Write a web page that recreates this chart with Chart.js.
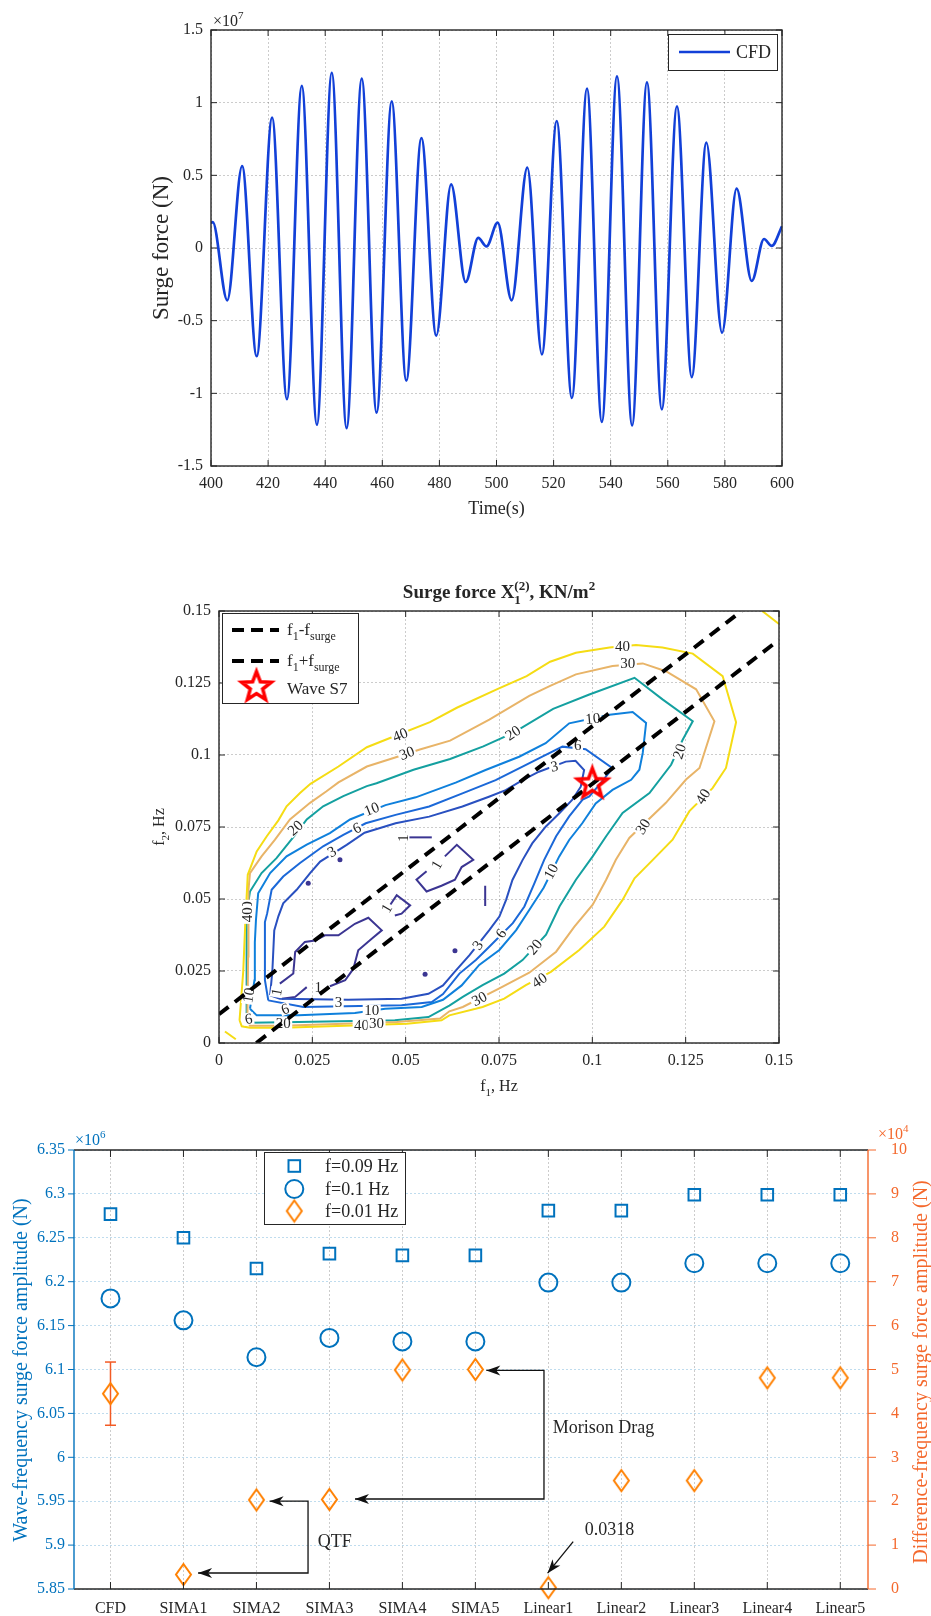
<!DOCTYPE html>
<html>
<head>
<meta charset="utf-8">
<script src="https://cdn.jsdelivr.net/npm/chart.js@4.4.1/dist/chart.umd.min.js"></script>
<style>
  html, body { margin: 0; padding: 0; background: #fff; }
  body { width: 931px; height: 1616px; position: relative; overflow: hidden; }
  canvas { position: absolute; left: 0; }
</style>
</head>
<body>
<canvas id="surgeTime" width="931" height="520" style="top:0"></canvas>
<canvas id="surgeQtf" width="931" height="540" style="top:560px"></canvas>
<canvas id="surgeAmp" width="931" height="516" style="top:1100px"></canvas>
<script>
// Surge force figure - three stacked panels

const SERIF = "'Liberation Serif', 'Times New Roman', serif";
const AXIS = '#262626';
const GRID = 'rgba(0,0,0,0.2)';
const LINE_BLUE = '#1240d8';
const BLUE_AX = '#0072bd';
const ORANGE_AX = '#f4682c';
const DIAMOND = '#ff8000';
const ERR_COLOR = '#f25a24';

Chart.defaults.font.family = SERIF;

// ---------- panel 1: CFD surge force time series (x 1e7 N), peaks and troughs
const timeS = [400, 400.6, 405.7, 410.9, 416.0, 421.4, 426.6, 431.8, 437.1, 442.3, 447.5,
  452.8, 458.0, 463.3, 468.4, 473.7, 478.9, 484.1, 489.2, 493.6, 496.5, 500.4, 505.3,
  510.8, 515.9, 521.1, 526.4, 531.7, 536.9, 542.2, 547.5, 552.7, 557.9, 563.2, 568.4,
  573.5, 579.0, 584.1, 589.4, 593.7, 596.4, 600];
const surgeForce = [0.172, 0.178, -0.36, 0.564, -0.745, 0.897, -1.04, 1.115, -1.216, 1.206, -1.239,
  1.165, -1.133, 1.009, -0.913, 0.757, -0.603, 0.438, -0.234, 0.069, 0.011, 0.174, -0.36,
  0.553, -0.732, 0.874, -1.032, 1.096, -1.197, 1.181, -1.22, 1.14, -1.11, 0.975, -0.888,
  0.725, -0.583, 0.408, -0.227, 0.062, 0.014, 0.149];
const timeTicks = [400, 420, 440, 460, 480, 500, 520, 540, 560, 580, 600];
const forceTicks = [-1.5, -1, -0.5, 0, 0.5, 1, 1.5];
const forceTickLabels = ['-1.5', '-1', '-0.5', '0', '0.5', '1', '1.5'];

// ---------- panel 2: QTF contour, f1/f2 in Hz
const freqTicks = [0, 0.025, 0.05, 0.075, 0.1, 0.125, 0.15];
const freqTickLabels = ['0', '0.025', '0.05', '0.075', '0.1', '0.125', '0.15'];
const levelColors = { 1: '#3b3592', 3: '#2950c0', 6: '#1b68d8', 10: '#0f80dc', 20: '#14a0a0', 30: '#e8b468', 40: '#f5dc14' };

const level40 = [[0.0055,0.0079],[0.0065,0.025],[0.0070,0.0404],[0.0077,0.0584],[0.0101,0.0665],[0.0128,0.0718],
  [0.0159,0.0773],[0.0181,0.0822],[0.0217,0.0868],[0.0245,0.0900],[0.0320,0.0960],[0.0396,0.1027],[0.0458,0.1059],
  [0.0565,0.1114],[0.0637,0.1164],[0.0744,0.1228],[0.0824,0.1274],[0.0887,0.1324],[0.0956,0.1355],[0.1046,0.1373],
  [0.1117,0.1382],[0.1188,0.1373],[0.1269,0.1352],[0.1349,0.1274],[0.1385,0.1114],[0.1358,0.0955],[0.1322,0.0885],
  [0.1260,0.0805],[0.1215,0.0706],[0.1162,0.0636],[0.1113,0.0572],[0.1081,0.0497],[0.1032,0.0404],[0.0965,0.0323],
  [0.0889,0.0247],[0.0822,0.0201],[0.0764,0.0154],[0.0706,0.0125],[0.0617,0.0096],[0.0596,0.0079],[0.0503,0.0067],
  [0.0172,0.0053],[0.0083,0.0053],[0.0061,0.0058],[0.0055,0.0079]];
const level40Corner = [[0.1455,0.15],[0.15,0.1455]];
const level40Origin = [[0.0016,0.0040],[0.0045,0.0013]];
const level30 = [[0.0076,0.0079],[0.0078,0.030],[0.0079,0.0532],[0.0083,0.059],[0.0114,0.0648],[0.015,0.0706],
  [0.019,0.0776],[0.0244,0.0834],[0.0288,0.0874],[0.0320,0.0905],[0.0396,0.096],[0.0476,0.0993],[0.0538,0.1019],
  [0.0619,0.1050],[0.0724,0.1123],[0.0831,0.1205],[0.0887,0.1240],[0.0956,0.128],[0.1054,0.1309],[0.1135,0.1318],
  [0.1197,0.1291],[0.1278,0.1228],[0.1327,0.1117],[0.1287,0.0955],[0.1251,0.0915],[0.1197,0.0834],[0.1099,0.0712],
  [0.1063,0.0636],[0.1037,0.0567],[0.1001,0.048],[0.0952,0.0404],[0.0903,0.0317],[0.0831,0.0244],[0.0751,0.0190],
  [0.0653,0.0125],[0.0617,0.0110],[0.0592,0.0085],[0.0476,0.0073],[0.0172,0.0060],[0.0083,0.0060],[0.0076,0.0079]];
const level20 = [[0.0074,0.0079],[0.0074,0.045],[0.0083,0.0526],[0.0114,0.059],[0.0154,0.0642],[0.0204,0.0723],
  [0.0235,0.0776],[0.0279,0.0822],[0.0333,0.0857],[0.0396,0.0892],[0.0422,0.0902],[0.0521,0.0949],[0.0619,0.0986],
  [0.0708,0.103],[0.0788,0.1077],[0.0895,0.116],[0.0992,0.121],[0.1113,0.1268],[0.1188,0.1193],[0.1269,0.1117],
  [0.1242,0.1053],[0.1211,0.0966],[0.1153,0.0868],[0.1081,0.0799],[0.1037,0.0718],[0.1001,0.0648],[0.0956,0.0567],
  [0.0912,0.0474],[0.0876,0.0376],[0.0813,0.0288],[0.0764,0.0241],[0.0706,0.0201],[0.0653,0.016],[0.0617,0.0130],
  [0.0561,0.009],[0.0471,0.0079],[0.0213,0.0073],[0.0083,0.007],[0.0074,0.0079]];
const level10 = [[0.0083,0.0119],[0.0095,0.0218],[0.0096,0.035],[0.0099,0.0427],[0.0105,0.052],[0.0137,0.059],
  [0.0181,0.0648],[0.0235,0.0689],[0.0297,0.0729],[0.0351,0.0776],[0.0446,0.0826],[0.0527,0.0853],[0.0634,0.0904],
  [0.0714,0.0948],[0.0804,0.0994],[0.0875,0.1041],[0.0938,0.1110],[0.1046,0.114],[0.1108,0.1149],[0.1144,0.1111],
  [0.1135,0.1007],[0.1126,0.0949],[0.1104,0.0914],[0.1054,0.0879],[0.1009,0.0832],[0.0973,0.0763],[0.0938,0.0705],
  [0.0911,0.0647],[0.0870,0.054],[0.0831,0.0462],[0.0796,0.0392],[0.0751,0.0323],[0.0697,0.0271],[0.0650,0.0200],
  [0.0600,0.0150],[0.0543,0.0125],[0.0445,0.0119],[0.0364,0.0104],[0.0213,0.0096],[0.0101,0.0096],[0.0083,0.0119]];
const level6 = [[0.0132,0.0148],[0.0123,0.0218],[0.0123,0.042],[0.0129,0.045],[0.0141,0.0532],[0.0172,0.0578],
  [0.0217,0.0625],[0.0279,0.0683],[0.0333,0.0723],[0.0393,0.0763],[0.0473,0.0792],[0.0563,0.0821],[0.0652,0.0867],
  [0.0741,0.0913],[0.0813,0.096],[0.0866,0.0994],[0.0920,0.1029],[0.0982,0.1020],[0.1054,0.0954],[0.1023,0.0903],
  [0.0992,0.0856],[0.0974,0.0845],[0.0938,0.0787],[0.0903,0.0718],[0.0871,0.0636],[0.0845,0.0555],[0.0818,0.0474],
  [0.0787,0.0416],[0.0724,0.0334],[0.0688,0.0288],[0.0644,0.0241],[0.0600,0.0170],[0.0570,0.0142],[0.0489,0.0131],
  [0.0226,0.0125],[0.0132,0.0148]];
const level3 = [[0.0137,0.0166],[0.0143,0.0252],[0.0148,0.0391],[0.0159,0.044],[0.0172,0.0485],[0.0208,0.0532],
  [0.0244,0.059],[0.0271,0.063],[0.0342,0.0688],[0.0390,0.0730],[0.0473,0.0763],[0.0563,0.0786],[0.0652,0.0821],
  [0.0723,0.0855],[0.0768,0.0878],[0.0813,0.0913],[0.0857,0.0942],[0.0929,0.0977],[0.0955,0.098],[0.0978,0.0948],
  [0.0969,0.089],[0.0946,0.0844],[0.0911,0.0797],[0.0875,0.0751],[0.0839,0.0693],[0.0813,0.0635],[0.0786,0.0566],
  [0.0769,0.0497],[0.0751,0.0439],[0.0724,0.0392],[0.0671,0.0305],[0.0630,0.0245],[0.0600,0.0200],[0.0561,0.0171],
  [0.0489,0.0154],[0.0346,0.0150],[0.0163,0.0154],[0.0137,0.0166]];
const level1Low = [[0.0163,0.0206],[0.0199,0.0241],[0.0204,0.0316],[0.023,0.0351],[0.0257,0.0356],[0.0284,0.0374],
  [0.032,0.0374],[0.0364,0.0414],[0.04,0.0435],[0.0436,0.0391],[0.0409,0.0362],[0.0373,0.0322],[0.036,0.0258],
  [0.0338,0.0218],[0.0297,0.0197]];
const level1LowTail = [[0.0168,0.0154],[0.0204,0.0160],[0.0235,0.0194]];
const level1Mid = [[0.0449,0.0461],[0.0476,0.0513],[0.0512,0.0478],[0.0489,0.0449],[0.0471,0.0443]];
const level1Up = [[0.0556,0.0596],[0.0529,0.0567],[0.0556,0.0526],[0.0596,0.0546],[0.0632,0.0567],[0.065,0.0611],
  [0.0681,0.0636],[0.0637,0.0688],[0.0605,0.0648]];
const level1Bar = [[0.0489,0.0714],[0.057,0.0714]];
const level1Stub = [[0.0713,0.0546],[0.0713,0.0476]];
const level1Dots = [[0.0239,0.0555],[0.0324,0.0636],[0.0632,0.032],[0.0552,0.0239]];

const contourPaths = [
  [40, level40], [40, level40Corner], [40, level40Origin], [30, level30], [20, level20],
  [10, level10], [6, level6], [3, level3], [1, level1Low], [1, level1LowTail], [1, level1Mid],
  [1, level1Up], [1, level1Bar], [1, level1Stub]
];
const surgeMinus = [[0.01, 0], [0.15, 0.14]];
const surgePlus = [[0, 0.01], [0.14, 0.15]];
const waveS7 = [[0.1, 0.09]];

// text, f1, f2, angle (deg)
const contourLabels = [
  ['40', 0.0485, 0.1071, -22], ['30', 0.0503, 0.1007, -20], ['20', 0.0787, 0.1077, -33],
  ['10', 0.0409, 0.0813, -22], ['40', 0.1081, 0.1379, 0], ['30', 0.1095, 0.1318, 0],
  ['10', 0.1001, 0.1127, -5], ['6', 0.0961, 0.1033, 0], ['3', 0.0898, 0.0961, -10],
  ['20', 0.1233, 0.1013, -72], ['40', 0.1296, 0.0856, -58], ['30', 0.1135, 0.0752, -58],
  ['10', 0.0889, 0.0596, -62], ['20', 0.0845, 0.0334, -50], ['6', 0.0755, 0.0381, -55],
  ['3', 0.0693, 0.0340, -55], ['40', 0.0858, 0.0218, -33], ['30', 0.0697, 0.0154, -28],
  ['20', 0.0204, 0.0747, -42], ['6', 0.0369, 0.0747, -25], ['3', 0.0302, 0.0665, -30],
  ['1', 0.0494, 0.0712, -90], ['1', 0.0583, 0.0619, -60], ['1', 0.0449, 0.0468, -60],
  ['1', 0.0154, 0.0177, -80], ['1', 0.0266, 0.0194, 0], ['3', 0.0320, 0.0142, 0],
  ['6', 0.0177, 0.0119, -20], ['10', 0.0409, 0.0113, 0], ['20', 0.0172, 0.0069, 0],
  ['40', 0.0382, 0.0061, 0], ['30', 0.0422, 0.0069, 0], ['30', 0.0074, 0.0466, -90],
  ['40', 0.0074, 0.0445, -90], ['10', 0.0079, 0.0166, -80], ['6', 0.0079, 0.0084, -10]
];

// ---------- panel 3: amplitude comparison
const cases = ['CFD', 'SIMA1', 'SIMA2', 'SIMA3', 'SIMA4', 'SIMA5', 'Linear1', 'Linear2', 'Linear3', 'Linear4', 'Linear5'];
const seriesNames = ['f=0.09 Hz', 'f=0.1 Hz', 'f=0.01 Hz'];
const amp009 = [6.277, 6.250, 6.215, 6.232, 6.230, 6.230, 6.281, 6.281, 6.299, 6.299, 6.299]; // x1e6 N
const amp010 = [6.181, 6.156, 6.114, 6.136, 6.132, 6.132, 6.199, 6.199, 6.221, 6.221, 6.221]; // x1e6 N
const amp001 = [4.45, 0.33, 2.03, 2.04, 4.99, 5.0, 0.03, 2.47, 2.47, 4.81, 4.81];           // x1e4 N
const cfdErr = [3.73, 5.17];
const ampTicksL = [5.85, 5.9, 5.95, 6, 6.05, 6.1, 6.15, 6.2, 6.25, 6.3, 6.35];
const ampTickLabelsL = ['5.85', '5.9', '5.95', '6', '6.05', '6.1', '6.15', '6.2', '6.25', '6.3', '6.35'];
const ampTicksR = [0, 1, 2, 3, 4, 5, 6, 7, 8, 9, 10];
// annotation brackets in (case index, right-axis value)
const qtfArrow = [[3.18, 2.0], [3.707, 2.0], [3.707, 0.364], [2.2, 0.364]];
const morisonArrow = [[6.15, 4.98], [6.94, 4.98], [6.94, 2.05], [4.35, 2.05]];
const linear1Arrow = [[7.34, 1.08], [6.99, 0.36]];
const annotTexts = [['QTF', 3.84, 1.07], ['Morison Drag', 7.06, 3.67], ['0.0318', 7.50, 1.34]];

// ---------- helpers
// fixed scale box sizes, so the plot area sits where the figure has it
const fitTo = size => s => { if (s.isHorizontal()) s.height = size; else s.width = size; };
const toXY = arr => arr.map(p => ({ x: p[0], y: p[1] }));

function txt(ctx, parts, x, y, o = {}) {
  const size = o.size || 16;
  const weight = o.weight || 'normal';
  const small = Math.round(size * 0.68);
  const font = p => `${weight} ${p.sub || p.sup ? small : size}px ${SERIF}`;
  if (typeof parts === 'string') parts = [{ t: parts }];
  ctx.save();
  ctx.translate(x, y);
  if (o.rotate) ctx.rotate(o.rotate * Math.PI / 180);
  let w = 0;
  for (const p of parts) { ctx.font = font(p); if (!p.stack) w += ctx.measureText(p.t).width; }
  let cx = o.align === 'left' ? 0 : o.align === 'right' ? -w : -w / 2;
  ctx.fillStyle = o.color || AXIS;
  ctx.textBaseline = o.baseline || 'alphabetic';
  ctx.textAlign = 'left';
  for (const p of parts) {
    ctx.font = font(p);
    const dy = p.sub ? size * 0.32 : p.sup ? -size * 0.42 : 0;
    ctx.fillText(p.t, cx, dy);
    if (!p.stack) cx += ctx.measureText(p.t).width;
  }
  ctx.restore();
}

function seg(ctx, x1, y1, x2, y2) {
  ctx.beginPath(); ctx.moveTo(x1, y1); ctx.lineTo(x2, y2); ctx.stroke();
}

function arrowHead(ctx, fx, fy, tx, ty) {
  const ang = Math.atan2(ty - fy, tx - fx);
  const L = 14, W = 5, N = 4;
  ctx.save();
  ctx.translate(tx, ty); ctx.rotate(ang);
  ctx.beginPath();
  ctx.moveTo(0, 0); ctx.lineTo(-L, -W); ctx.lineTo(-L + N, 0); ctx.lineTo(-L, W);
  ctx.closePath(); ctx.fill();
  ctx.restore();
}

function boxTicks(chart, len, color) {
  const { ctx, chartArea: a, scales } = chart;
  ctx.save();
  ctx.strokeStyle = color; ctx.lineWidth = 1;
  scales.x.ticks.forEach(t => {
    const x = scales.x.getPixelForValue(t.value);
    seg(ctx, x, a.bottom, x, a.bottom - len); seg(ctx, x, a.top, x, a.top + len);
  });
  scales.y.ticks.forEach(t => {
    const y = scales.y.getPixelForValue(t.value);
    seg(ctx, a.left, y, a.left + len, y); seg(ctx, a.right, y, a.right - len, y);
  });
  ctx.lineWidth = 1.4;
  ctx.strokeRect(a.left, a.top, a.width, a.height);
  ctx.restore();
}

function makeStar(R, lw, color) {
  const c = document.createElement('canvas');
  const s = Math.ceil(2 * R + lw * 2 + 4);
  c.width = c.height = s;
  const g = c.getContext('2d');
  g.translate(s / 2, s / 2);
  g.beginPath();
  for (let k = 0; k < 10; k++) {
    const r = k % 2 ? R * 0.42 : R;
    const ang = -Math.PI / 2 + k * Math.PI / 5;
    g.lineTo(r * Math.cos(ang), r * Math.sin(ang));
  }
  g.closePath();
  g.lineWidth = lw; g.strokeStyle = color; g.lineJoin = 'miter';
  g.stroke();
  return c;
}

function makeDiamond(w, h, lw, color) {
  const c = document.createElement('canvas');
  c.width = Math.ceil(w + lw * 2 + 2); c.height = Math.ceil(h + lw * 2 + 2);
  const g = c.getContext('2d');
  const cx = c.width / 2, cy = c.height / 2;
  g.beginPath();
  g.moveTo(cx, cy - h / 2); g.lineTo(cx + w / 2, cy); g.lineTo(cx, cy + h / 2); g.lineTo(cx - w / 2, cy);
  g.closePath();
  g.lineWidth = lw; g.strokeStyle = color; g.lineJoin = 'miter';
  g.stroke();
  return c;
}

const starImg = makeStar(15.5, 3.5, '#ff0000');
const diamondImg = makeDiamond(15, 21, 2, DIAMOND);

function linearAxis(min, max, vals, labels, boxSize, extra = {}) {
  return Object.assign({
    type: 'linear', min, max,
    afterFit: fitTo(boxSize),
    afterBuildTicks: s => { s.ticks = vals.map(v => ({ value: v })); },
    ticks: { callback: (v, i) => labels[i], color: AXIS, font: { size: 16 }, padding: 8, autoSkip: false, maxRotation: 0 },
    grid: { color: GRID, drawTicks: false },
    border: { display: false, dash: [2, 2] }
  }, extra);
}

// ---------- panel 1
new Chart(document.getElementById('surgeTime'), {
  type: 'scatter',
  data: {
    datasets: [{
      label: 'CFD',
      data: timeS.map((t, i) => ({ x: t, y: surgeForce[i] })),
      showLine: true,
      borderColor: LINE_BLUE,
      borderWidth: 2.7,
      pointRadius: 0,
      cubicInterpolationMode: 'monotone'
    }]
  },
  options: {
    responsive: false, animation: false, events: [],
    layout: { padding: { left: 131, right: 149, top: 30, bottom: 14 } },
    plugins: { legend: { display: false }, tooltip: { enabled: false } },
    scales: {
      x: linearAxis(400, 600, timeTicks, timeTicks.map(String), 40),
      y: linearAxis(-1.5, 1.5, forceTicks, forceTickLabels, 80)
    }
  },
  plugins: [{
    id: 'frame1',
    afterDraw(chart) {
      const { ctx } = chart;
      boxTicks(chart, 6, AXIS);
      txt(ctx, [{ t: '×10' }, { t: '7', sup: true }], 213, 26, { align: 'left', size: 16 });
      txt(ctx, 'Surge force (N)', 168, 248, { rotate: -90, size: 23 });
      txt(ctx, 'Time(s)', 496.5, 514, { size: 18 });
      // legend
      ctx.save();
      ctx.fillStyle = '#fff'; ctx.fillRect(668, 34, 109, 36);
      ctx.strokeStyle = AXIS; ctx.lineWidth = 1; ctx.strokeRect(668.5, 34.5, 109, 36);
      ctx.strokeStyle = LINE_BLUE; ctx.lineWidth = 2.7; seg(ctx, 679, 52, 730, 52);
      ctx.restore();
      txt(ctx, 'CFD', 736, 58, { align: 'left', size: 18 });
    }
  }]
});

// ---------- panel 2
const contourSets = contourPaths.map(([lv, path]) => ({
  data: toXY(path), showLine: true, borderColor: levelColors[lv], backgroundColor: levelColors[lv],
  borderWidth: 2, pointRadius: 0
}));

new Chart(document.getElementById('surgeQtf'), {
  type: 'scatter',
  data: {
    datasets: [
      { data: toXY(waveS7), pointStyle: starImg, pointRadius: 5, clip: false },
      { data: toXY(surgeMinus), showLine: true, borderColor: '#000', borderWidth: 4, borderDash: [12, 8], pointRadius: 0 },
      { data: toXY(surgePlus), showLine: true, borderColor: '#000', borderWidth: 4, borderDash: [12, 8], pointRadius: 0 },
      { data: toXY(level1Dots), pointStyle: 'circle', pointRadius: 2.5, borderWidth: 0, backgroundColor: levelColors[1] },
      ...contourSets
    ]
  },
  options: {
    responsive: false, animation: false, events: [],
    layout: { padding: { left: 139, right: 152, top: 51, bottom: 17 } },
    plugins: { legend: { display: false }, tooltip: { enabled: false } },
    scales: {
      x: linearAxis(0, 0.15, freqTicks, freqTickLabels, 40),
      y: linearAxis(0, 0.15, freqTicks, freqTickLabels, 80)
    }
  },
  plugins: [{
    id: 'contourLabels',
    afterDatasetDraw(chart, args) {
      if (args.index !== 3) return;
      const { ctx, scales } = chart;
      ctx.save();
      ctx.font = `15px ${SERIF}`;
      contourLabels.forEach(([s, fx, fy, ang]) => {
        const x = scales.x.getPixelForValue(fx), y = scales.y.getPixelForValue(fy);
        const w = ctx.measureText(s).width + 3;
        ctx.save();
        ctx.translate(x, y); ctx.rotate(ang * Math.PI / 180);
        ctx.fillStyle = '#fff'; ctx.fillRect(-w / 2, -6, w, 12);
        ctx.fillStyle = AXIS; ctx.textAlign = 'center'; ctx.textBaseline = 'middle';
        ctx.fillText(s, 0, 1);
        ctx.restore();
      });
      ctx.restore();
    },
    afterDraw(chart) {
      const { ctx } = chart;
      boxTicks(chart, 6, AXIS);
      txt(ctx, [{ t: 'Surge force X' }, { t: '1', sub: true, stack: true }, { t: '(2)', sup: true }, { t: ', KN/m' }, { t: '2', sup: true }],
        499, 38, { size: 19, weight: 'bold' });
      txt(ctx, [{ t: 'f' }, { t: '1', sub: true }, { t: ', Hz' }], 499, 531, { size: 16 });
      txt(ctx, [{ t: 'f' }, { t: '2', sub: true }, { t: ', Hz' }], 164, 267, { size: 16, rotate: -90 });
      // legend
      ctx.save();
      ctx.fillStyle = '#fff'; ctx.fillRect(222, 53, 136, 90);
      ctx.strokeStyle = AXIS; ctx.lineWidth = 1; ctx.strokeRect(222.5, 53.5, 136, 90);
      ctx.strokeStyle = '#000'; ctx.lineWidth = 4; ctx.setLineDash([12, 7]);
      seg(ctx, 232, 70, 279, 70); seg(ctx, 232, 101, 279, 101);
      ctx.setLineDash([]);
      ctx.drawImage(starImg, 256.5 - starImg.width / 2, 127 - starImg.height / 2);
      ctx.restore();
      txt(ctx, [{ t: 'f' }, { t: '1', sub: true }, { t: '-f' }, { t: 'surge', sub: true }], 287, 75, { align: 'left', size: 17 });
      txt(ctx, [{ t: 'f' }, { t: '1', sub: true }, { t: '+f' }, { t: 'surge', sub: true }], 287, 106, { align: 'left', size: 17 });
      txt(ctx, 'Wave S7', 287, 134, { align: 'left', size: 17 });
    }
  }]
});

// ---------- panel 3
new Chart(document.getElementById('surgeAmp'), {
  type: 'scatter',
  data: {
    datasets: [
      { label: seriesNames[0], yAxisID: 'yL', data: amp009.map((v, i) => ({ x: i + 1, y: v })),
        pointStyle: 'rect', pointRadius: 8.2, borderWidth: 2, borderColor: BLUE_AX, backgroundColor: 'rgba(0,0,0,0)', clip: false },
      { label: seriesNames[1], yAxisID: 'yL', data: amp010.map((v, i) => ({ x: i + 1, y: v })),
        pointStyle: 'circle', pointRadius: 9, borderWidth: 2, borderColor: BLUE_AX, backgroundColor: 'rgba(0,0,0,0)', clip: false },
      { label: seriesNames[2], yAxisID: 'yR', data: amp001.map((v, i) => ({ x: i + 1, y: v })),
        pointStyle: diamondImg, pointRadius: 5, clip: false }
    ]
  },
  options: {
    responsive: false, animation: false, events: [],
    layout: { padding: { left: 4, right: 13, top: 50, bottom: 1 } },
    plugins: { legend: { display: false }, tooltip: { enabled: false } },
    scales: {
      x: linearAxis(0.5, 11.38, cases.map((c, i) => i + 1), cases, 26, {
        ticks: { callback: (v, i) => cases[i], color: AXIS, font: { size: 16 }, padding: 10, autoSkip: false, maxRotation: 0 }
      }),
      yL: linearAxis(5.85, 6.35, ampTicksL, ampTickLabelsL, 70, {
        position: 'left',
        ticks: { callback: (v, i) => ampTickLabelsL[i], color: BLUE_AX, font: { size: 16 }, padding: 9, autoSkip: false },
        grid: { color: 'rgba(0,114,189,0.25)', drawTicks: false }
      }),
      yR: linearAxis(0, 10, ampTicksR, ampTicksR.map(String), 50, {
        position: 'right',
        ticks: { callback: (v, i) => String(ampTicksR[i]), color: ORANGE_AX, font: { size: 16 }, padding: 15, autoSkip: false },
        grid: { display: false }
      })
    }
  },
  plugins: [{
    id: 'errAndFrame',
    beforeDatasetsDraw(chart) {
      const { ctx, scales } = chart;
      const x = scales.x.getPixelForValue(1);
      const y1 = scales.yR.getPixelForValue(cfdErr[0]), y2 = scales.yR.getPixelForValue(cfdErr[1]);
      ctx.save();
      ctx.strokeStyle = ERR_COLOR; ctx.lineWidth = 1.5;
      seg(ctx, x, y1, x, y2); seg(ctx, x - 5.5, y1, x + 5.5, y1); seg(ctx, x - 5.5, y2, x + 5.5, y2);
      ctx.restore();
    },
    afterDraw(chart) {
      const { ctx, chartArea: a, scales } = chart;
      const px = p => [scales.x.getPixelForValue(p[0]), scales.yR.getPixelForValue(p[1])];
      ctx.save();
      // axes
      ctx.lineWidth = 1.4;
      ctx.strokeStyle = AXIS; seg(ctx, a.left, a.top, a.right, a.top); seg(ctx, a.left, a.bottom, a.right, a.bottom);
      ctx.strokeStyle = BLUE_AX; seg(ctx, a.left, a.top, a.left, a.bottom);
      ctx.strokeStyle = ORANGE_AX; seg(ctx, a.right, a.top, a.right, a.bottom);
      ctx.lineWidth = 1;
      ctx.strokeStyle = AXIS;
      scales.x.ticks.forEach(t => {
        const x = scales.x.getPixelForValue(t.value);
        seg(ctx, x, a.bottom, x, a.bottom - 7); seg(ctx, x, a.top, x, a.top + 7);
      });
      ctx.strokeStyle = BLUE_AX;
      scales.yL.ticks.forEach(t => { const y = scales.yL.getPixelForValue(t.value); seg(ctx, a.left, y, a.left - 6, y); });
      ctx.strokeStyle = ORANGE_AX;
      scales.yR.ticks.forEach(t => { const y = scales.yR.getPixelForValue(t.value); seg(ctx, a.right, y, a.right + 8, y); });
      // annotation arrows
      ctx.strokeStyle = '#111'; ctx.fillStyle = '#111'; ctx.lineWidth = 1.3;
      [qtfArrow, morisonArrow].forEach(path => {
        const pts = path.map(px);
        ctx.beginPath(); pts.forEach((p, i) => (i ? ctx.lineTo(p[0], p[1]) : ctx.moveTo(p[0], p[1]))); ctx.stroke();
        arrowHead(ctx, pts[1][0], pts[1][1], pts[0][0], pts[0][1]);
        const n = pts.length;
        arrowHead(ctx, pts[n - 2][0], pts[n - 2][1], pts[n - 1][0], pts[n - 1][1]);
      });
      const la = linear1Arrow.map(px);
      seg(ctx, la[0][0], la[0][1], la[1][0], la[1][1]);
      arrowHead(ctx, la[0][0], la[0][1], la[1][0], la[1][1]);
      ctx.restore();
      annotTexts.forEach(([s, i, v]) => {
        const [x, y] = px([i, v]);
        txt(ctx, s, x, y, { align: 'left', size: 18, baseline: 'middle' });
      });
      // exponents and axis titles
      txt(ctx, [{ t: '×10' }, { t: '6', sup: true }], 75, 45, { align: 'left', size: 16, color: BLUE_AX });
      txt(ctx, [{ t: '×10' }, { t: '4', sup: true }], 878, 39, { align: 'left', size: 16, color: ORANGE_AX });
      txt(ctx, 'Wave-frequency surge force amplitude (N)', 27, 270, { rotate: -90, size: 20, color: BLUE_AX });
      txt(ctx, 'Difference-frequency surge force amplitude (N)', 927, 272, { rotate: -90, size: 20, color: ORANGE_AX });
      // legend
      ctx.save();
      ctx.fillStyle = '#fff'; ctx.fillRect(264, 52, 141, 72);
      ctx.strokeStyle = AXIS; ctx.lineWidth = 1; ctx.strokeRect(264.5, 52.5, 141, 72);
      ctx.strokeStyle = BLUE_AX; ctx.lineWidth = 2;
      ctx.strokeRect(294.3 - 5.8, 66 - 5.8, 11.6, 11.6);
      ctx.beginPath(); ctx.arc(294.3, 89, 9, 0, Math.PI * 2); ctx.stroke();
      ctx.drawImage(diamondImg, 294.3 - diamondImg.width / 2, 111 - diamondImg.height / 2);
      ctx.restore();
      seriesNames.forEach((s, k) => txt(ctx, s, 325, [72, 95, 117][k], { align: 'left', size: 18 }));
    }
  }]
});
</script>
</body>
</html>
